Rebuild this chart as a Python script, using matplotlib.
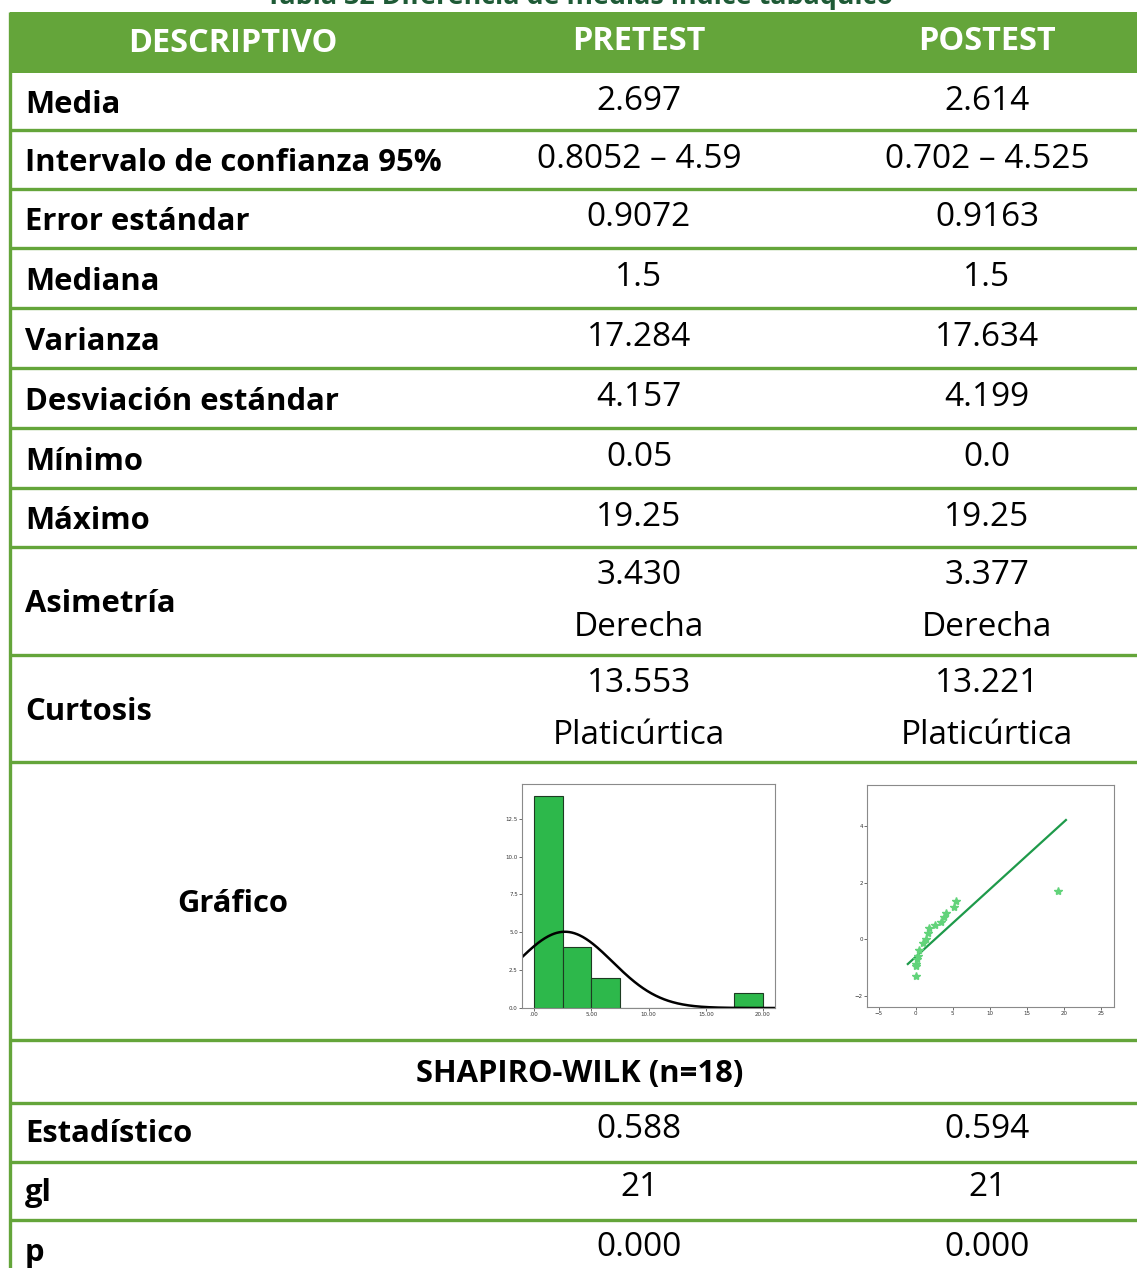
import numpy as np
import matplotlib
matplotlib.use('Agg')
import matplotlib.pyplot as plt

W, H = 1137, 1268

title = 'Tabla 32 Diferencia de medias índice tabáquico'
headers = ['DESCRIPTIVO', 'PRETEST', 'POSTEST']
labels = ['Media', 'Intervalo de confianza 95%', 'Error estándar', 'Mediana', 'Varianza',
          'Desviación estándar', 'Mínimo', 'Máximo', 'Asimetría', 'Curtosis']
pretest = ['2.697', '0.8052 – 4.59', '0.9072', '1.5', '17.284', '4.157', '0.05', '19.25',
           ('3.430', 'Derecha'), ('13.553', 'Platicúrtica')]
postest = ['2.614', '0.702 – 4.525', '0.9163', '1.5', '17.634', '4.199', '0.0', '19.25',
           ('3.377', 'Derecha'), ('13.221', 'Platicúrtica')]
sw_title = 'SHAPIRO-WILK (n=18)'
sw_labels = ['Estadístico', 'gl', 'p']
sw_pre = ['0.588', '21', '0.000']
sw_post = ['0.594', '21', '0.000']

# histogram (pretest)
bin_edges = [0, 2.5, 5, 7.5, 10, 12.5, 15, 17.5, 20]
counts = [14, 4, 2, 0, 0, 0, 0, 1]
pre_mean, pre_sd, n_obs = 2.697, 4.157, 21

# normal Q-Q (postest)
qq_x = [0.0, 0.0, 0.0, 0.1, 0.3, 0.4, 0.95, 1.4, 1.6, 1.8, 2.65, 3.4, 3.8, 4.1, 5.2, 5.45, 19.2]
qq_y = [-1.31, -0.89, -0.95, -0.72, -0.58, -0.39, -0.15, 0.02, 0.2, 0.38, 0.5, 0.61, 0.79, 0.91, 1.12, 1.36, 1.71]
post_mean, post_sd = 2.614, 4.199

GREEN = '#64a53a'
TITLE_GREEN = '#1e5a36'
FONT = ['Open Sans', 'DejaVu Sans']
FS_LAB = 22.3
FS_VAL = 24
FS_HEAD = 23.4

fig = plt.figure(figsize=(W / 100, H / 100), dpi=100)
ax = fig.add_axes([0, 0, 1, 1])
ax.set_xlim(0, W)
ax.set_ylim(H, 0)
ax.axis('off')

# title (cut at top edge, as in the source)
ax.text(580, 4, title, color=TITLE_GREEN, fontsize=19.4, fontweight='bold',
        ha='center', va='baseline', family=FONT)

# header band
ax.add_patch(plt.Rectangle((10, 12), W - 10, 61, color=GREEN, lw=0))
col_x = [233, 639, 987]
for x, h, yy in zip(col_x, headers, [44, 41, 41]):
    ax.text(x, yy, h, color='white', fontsize=FS_HEAD, fontweight='bold',
            ha='center', va='center', family=FONT)

# row lines
row_lines = [130, 189, 248, 308, 368, 428, 488, 547, 655, 762, 1040, 1103, 1162, 1220]
for y in row_lines:
    ax.plot([10, W], [y, y], color=GREEN, lw=2.4, solid_capstyle='butt')
ax.plot([9.5, 9.5], [12, H], color=GREEN, lw=2.4, solid_capstyle='butt')

row_edges = [73] + row_lines[:10]
for i, lab in enumerate(labels):
    top, bot = row_edges[i], row_edges[i + 1]
    mid = (top + bot) / 2
    ax.text(25, mid + 3.5, lab, fontsize=FS_LAB, fontweight='bold', ha='left', va='center', family=FONT)
    for x, vals in zip(col_x[1:], [pretest, postest]):
        v = vals[i]
        if isinstance(v, tuple):
            ax.text(x, mid - 25.5, v[0], fontsize=FS_VAL, ha='center', va='center', family=FONT)
            ax.text(x, mid + 26.5, v[1], fontsize=FS_VAL, ha='center', va='center', family=FONT)
        else:
            ax.text(x, mid - 0.5, v, fontsize=FS_VAL, ha='center', va='center', family=FONT)

ax.text(233, 904, 'Gráfico', fontsize=FS_LAB, fontweight='bold', ha='center', va='center', family=FONT)
ax.text(580, 1074, sw_title, fontsize=FS_LAB, fontweight='bold', ha='center', va='center', family=FONT)

sw_mids = [1131, 1190, 1250]
for i, lab in enumerate(sw_labels):
    ax.text(25, sw_mids[i] + 3, lab, fontsize=FS_LAB, fontweight='bold', ha='left', va='center', family=FONT)
    ax.text(col_x[1], sw_mids[i] - 2, sw_pre[i], fontsize=FS_VAL, ha='center', va='center', family=FONT)
    ax.text(col_x[2], sw_mids[i] - 2, sw_post[i], fontsize=FS_VAL, ha='center', va='center', family=FONT)


def px_box(x0, y0, x1, y1):
    return [x0 / W, 1 - y1 / H, (x1 - x0) / W, (y1 - y0) / H]


def style_small(a):
    for s in a.spines.values():
        s.set_color('#8a8a8a')
        s.set_linewidth(0.8)
    a.tick_params(length=2, width=0.5, labelsize=4, pad=1, colors='#333333')


# histogram inset
hx = fig.add_axes(px_box(522, 784, 775, 1008))
lefts = bin_edges[:-1]
widths = np.diff(bin_edges)
hx.bar(lefts, counts, width=widths, align='edge', color='#2db84b', edgecolor='#1d3b22', lw=0.8)
xs = np.linspace(-1.05, 21.05, 300)
bw = bin_edges[1] - bin_edges[0]
pdf = n_obs * bw / (pre_sd * np.sqrt(2 * np.pi)) * np.exp(-0.5 * ((xs - pre_mean) / pre_sd) ** 2)
hx.plot(xs, pdf, color='black', lw=1.8)
hx.set_xlim(-1.05, 21.05)
hx.set_ylim(0, 14.8)
hx.set_xticks([0, 5, 10, 15, 20])
hx.set_xticklabels(['.00', '5.00', '10.00', '15.00', '20.00'])
hx.set_yticks([0, 2.5, 5, 7.5, 10, 12.5])
hx.set_yticklabels(['0.0', '2.5', '5.0', '7.5', '10.0', '12.5'])
style_small(hx)

# Q-Q inset
qx = fig.add_axes(px_box(867, 785, 1114, 1007))
lx = np.array([-1.08, 20.3])
qx.plot(lx, (lx - post_mean) / post_sd, color='#1e9a4a', lw=1.6)
qx.plot(qq_x, qq_y, linestyle='none', marker='*', ms=6, color='#62d37a', mec='#62d37a')
qx.set_xlim(-6.6, 26.8)
qx.set_ylim(-2.4, 5.45)
qx.set_xticks([-5, 0, 5, 10, 15, 20, 25])
qx.set_yticks([-2, 0, 2, 4])
style_small(qx)

fig.savefig('out.png', dpi=100)
